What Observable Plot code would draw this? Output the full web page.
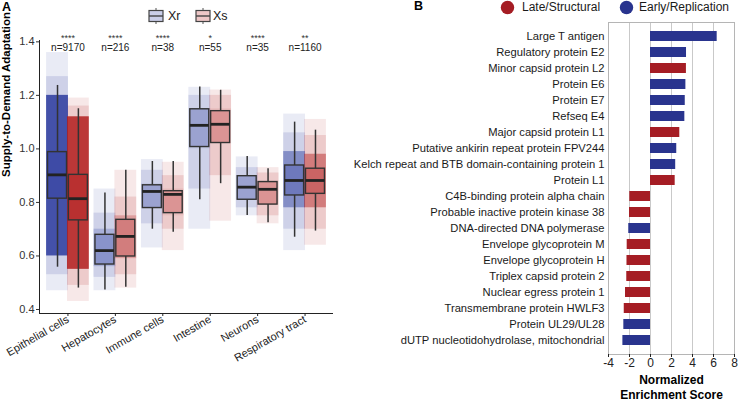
<!DOCTYPE html>
<html><head><meta charset="utf-8">
<script src="https://cdn.jsdelivr.net/npm/d3@7"></script>
<script src="https://cdn.jsdelivr.net/npm/@observablehq/plot@0.6"></script>
<style>
body{margin:0;background:#fff;font-family:"Liberation Sans",Arial,sans-serif;}
#wrap{position:relative;width:738px;height:402px;overflow:hidden;}
#pa{position:absolute;left:0;top:0;}
#pb{position:absolute;left:370px;top:0;}
#pb svg, #pa svg{overflow:visible;}
.lab{position:absolute;font-weight:bold;font-size:12.5px;color:#000;}
.lt{position:absolute;font-size:12px;color:#1a1a1a;line-height:14px;white-space:nowrap;}
.ico{position:absolute;}
</style></head>
<body><div id="wrap">
<div id="pa"></div><div id="pb"></div>
<div class="lab" style="left:2px;top:0px;">A</div>
<div class="lab" style="left:414px;top:-1px;">B</div>
<svg class="ico" style="left:148px;top:8px" width="16" height="16"><line x1="8" x2="8" y1="0" y2="16" stroke="#555" stroke-width="1"/><rect x="1" y="2.5" width="14" height="11" fill="#cacee8" stroke="#444" stroke-width="1.2"/><line x1="1" x2="15" y1="8" y2="8" stroke="#444" stroke-width="1.4"/></svg>
<div class="lt" style="left:168px;top:9px;font-size:12.5px">Xr</div>
<svg class="ico" style="left:195px;top:8px" width="16" height="16"><line x1="8" x2="8" y1="0" y2="16" stroke="#555" stroke-width="1"/><rect x="1" y="2.5" width="14" height="11" fill="#eec7c7" stroke="#444" stroke-width="1.2"/><line x1="1" x2="15" y1="8" y2="8" stroke="#444" stroke-width="1.4"/></svg>
<div class="lt" style="left:213px;top:9px;font-size:12.5px">Xs</div>
<svg class="ico" style="left:500px;top:0px" width="15" height="15"><circle cx="7.5" cy="7.5" r="6.7" fill="#a51d24"/></svg>
<div class="lt" style="left:522px;top:0px">Late/Structural</div>
<svg class="ico" style="left:619px;top:0px" width="15" height="15"><circle cx="7.5" cy="7.5" r="6.7" fill="#29348e"/></svg>
<div class="lt" style="left:639px;top:0px">Early/Replication</div>
</div>
<script>
// ---------- Panel A data ----------
const cellTypes = ["Epithelial cells","Hepatocytes","Immune cells","Intestine","Neurons","Respiratory tract"];
const nLabels = ["n=9170","n=216","n=38","n=55","n=35","n=1160"];
const sigLabels = ["****","****","****","*","****","**"];
const seriesNames = ["Xr","Xs"];
const yTicks = [0.4,0.6,0.8,1.0,1.2,1.4];

const xrWhiskerLo = [0.558,0.473,0.700,0.810,0.751,0.670];
const xrQ1        = [0.814,0.568,0.779,1.007,0.810,0.826];
const xrMedian    = [0.903,0.620,0.841,1.088,0.857,0.882];
const xrQ3        = [0.988,0.679,0.864,1.148,0.898,0.938];
const xrWhiskerHi = [1.237,0.835,0.953,1.231,0.972,1.100];

const xsWhiskerLo = [0.480,0.483,0.689,0.870,0.724,0.693];
const xsQ1        = [0.733,0.598,0.760,1.022,0.792,0.832];
const xsMedian    = [0.814,0.673,0.830,1.092,0.849,0.882];
const xsQ3        = [0.903,0.735,0.842,1.141,0.876,0.926];
const xsWhiskerHi = [1.150,0.920,0.953,1.219,0.926,1.070];

// jittered point clouds, estimated extents (outer / middle / dense core)
const xrPtsLo  = [0.47,0.47,0.63,0.70,0.75,0.62];
const xrPtsHi  = [1.36,0.85,0.96,1.23,0.97,1.13];
const xrMidLo  = [0.53,0.52,0.72,0.85,0.78,0.70];
const xrMidHi  = [1.27,0.76,0.92,1.20,0.93,1.06];
const xrCoreLo = [0.60,0.56,0.78,1.00,0.81,0.78];
const xrCoreHi = [1.20,0.70,0.87,1.15,0.90,0.99];
const xrCoreAlpha = [0.85,0.22,0.08,0.08,0.08,0.45];

const xsPtsLo  = [0.43,0.48,0.62,0.73,0.72,0.64];
const xsPtsHi  = [1.19,0.92,0.95,1.22,0.93,1.11];
const xsMidLo  = [0.49,0.53,0.70,0.90,0.75,0.70];
const xsMidHi  = [1.16,0.82,0.90,1.20,0.91,1.05];
const xsCoreLo = [0.55,0.59,0.75,1.02,0.79,0.78];
const xsCoreHi = [1.12,0.75,0.85,1.15,0.88,0.98];
const xsCoreAlpha = [0.85,0.26,0.08,0.08,0.08,0.45];

// ---------- Panel B data ----------
const proteins = ["Large T antigen","Regulatory protein E2","Minor capsid protein L2","Protein E6","Protein E7","Refseq E4","Major capsid protein L1","Putative ankirin repeat protein FPV244","Kelch repeat and BTB domain-containing protein 1","Protein L1","C4B-binding protein alpha chain","Probable inactive protein kinase 38","DNA-directed DNA polymerase","Envelope glycoprotein M","Envelope glycoprotein H","Triplex capsid protein 2","Nuclear egress protein 1","Transmembrane protein HWLF3","Protein UL29/UL28","dUTP nucleotidohydrolase, mitochondrial"];
const nesValues = [6.35,3.43,3.42,3.37,3.31,3.27,2.79,2.50,2.40,2.35,-1.97,-2.00,-2.07,-2.22,-2.24,-2.26,-2.38,-2.50,-2.54,-2.63];
const proteinClass = ["Early/Replication","Early/Replication","Late/Structural","Early/Replication","Early/Replication","Early/Replication","Late/Structural","Early/Replication","Early/Replication","Late/Structural","Late/Structural","Late/Structural","Early/Replication","Late/Structural","Late/Structural","Late/Structural","Late/Structural","Late/Structural","Early/Replication","Early/Replication"];
const classNames = ["Late/Structural","Early/Replication"];
const nesTicks = [-4,-2,0,2,4,6,8];

// ---------- build tables ----------
const rowsA = cellTypes.flatMap((cat, i) => [
  {i, cat, series:"Xr", side:-1, lo:xrWhiskerLo[i], q1:xrQ1[i], med:xrMedian[i], q3:xrQ3[i], hi:xrWhiskerHi[i],
   pLo:xrPtsLo[i], pHi:xrPtsHi[i], mLo:xrMidLo[i], mHi:xrMidHi[i], cLo:xrCoreLo[i], cHi:xrCoreHi[i], cA:xrCoreAlpha[i]},
  {i, cat, series:"Xs", side:1, lo:xsWhiskerLo[i], q1:xsQ1[i], med:xsMedian[i], q3:xsQ3[i], hi:xsWhiskerHi[i],
   pLo:xsPtsLo[i], pHi:xsPtsHi[i], mLo:xsMidLo[i], mHi:xsMidHi[i], cLo:xsCoreLo[i], cHi:xsCoreHi[i], cA:xsCoreAlpha[i]}
]);
const labelsA = cellTypes.map((cat, i) => ({i, n:nLabels[i], sig:sigLabels[i]}));
const rowsB = proteins.map((p, i) => ({protein:p, nes:nesValues[i], cls:proteinClass[i]}));

const dodge = 0.22, boxHalf = 0.2, jitHalf = 0.23;
const cx = d => d.i + d.side*dodge;
const bx1 = d => cx(d) - boxHalf, bx2 = d => cx(d) + boxHalf;
const jx1 = d => cx(d) - jitHalf, jx2 = d => cx(d) + jitHalf;
const font = "'Liberation Sans', Arial, sans-serif";
const xDomA = [-0.6, 5.6], yDomA = [0.385, 1.405];

const plotA = Plot.plot({
  width:370, height:402, marginLeft:39, marginRight:37, marginTop:40, marginBottom:89,
  style:{fontFamily:font, fontSize:"11px", color:"#222", background:"transparent"},
  x:{domain:xDomA}, y:{domain:yDomA},
  color:{domain:seriesNames, range:["#2b3b9e","#b21d1d"]},
  opacity:{type:"identity"},
  marks:[
    Plot.rect(rowsA, {x1:jx1, x2:jx2, y1:"pLo", y2:"pHi", fill:"series", fillOpacity:0.1}),
    Plot.rect(rowsA, {x1:jx1, x2:jx2, y1:"mLo", y2:"mHi", fill:"series", fillOpacity:0.14}),
    Plot.rect(rowsA, {x1:jx1, x2:jx2, y1:"cLo", y2:"cHi", fill:"series", fillOpacity:"cA"}),
    Plot.ruleX(rowsA, {x:cx, y1:"lo", y2:"q1", stroke:"#333", strokeWidth:1.5}),
    Plot.ruleX(rowsA, {x:cx, y1:"q3", y2:"hi", stroke:"#333", strokeWidth:1.5}),
    Plot.rect(rowsA, {x1:bx1, x2:bx2, y1:"q1", y2:"q3", fill:"series", fillOpacity:0.25, stroke:"#333", strokeWidth:1.4}),
    Plot.ruleY(rowsA, {y:"med", x1:bx1, x2:bx2, stroke:"#222", strokeWidth:2.8}),
    Plot.ruleX([xDomA[0]], {stroke:"#222", strokeWidth:1}),
    Plot.ruleY([yDomA[0]], {stroke:"#222", strokeWidth:1}),
    Plot.axisY({ticks:yTicks, tickFormat:d3.format(".1f"), tickSize:3, tickPadding:2, label:null, fontSize:11, color:"#333"}),
    Plot.axisX({ticks:cellTypes.map((c, i) => i), tickFormat:i => cellTypes[i], tickRotate:-30, tickSize:3, tickPadding:2, label:null, fontSize:11, color:"#222"}),
    Plot.text(labelsA, {x:"i", text:"sig", frameAnchor:"top", dy:-6, fontSize:9, fill:"#333"}),
    Plot.text(labelsA, {x:"i", text:"n", frameAnchor:"top", dy:3, fontSize:10, fill:"#222"}),
    Plot.text(["Supply-to-Demand Adaptation"], {text:d => d, frameAnchor:"left", dx:-33, rotate:-90, fontWeight:"bold", fontSize:11.5, fill:"#000"})
  ]
});
document.getElementById("pa").appendChild(plotA);

const plotB = Plot.plot({
  width:368, height:402, marginLeft:238, marginRight:4, marginTop:22, marginBottom:48,
  style:{fontFamily:font, fontSize:"11px", color:"#222", background:"transparent"},
  x:{domain:[nesTicks[0], nesTicks[nesTicks.length-1]]},
  y:{domain:proteins, paddingInner:0.38, paddingOuter:0.15},
  color:{domain:classNames, range:["#a51d24","#29348e"]},
  marks:[
    Plot.gridX({ticks:nesTicks, stroke:"#c9c9c9", strokeOpacity:1}),
    Plot.barX(rowsB, {x:"nes", y:"protein", fill:"cls"}),
    Plot.frame({stroke:"#b5b5b5"}),
    Plot.axisX({ticks:nesTicks, tickFormat:d => String(d), tickSize:3, tickPadding:1, label:null, fontSize:12, color:"#222"}),
    Plot.axisY({tickSize:0, tickPadding:4, label:null, fontSize:11.2, color:"#1a1a1a"}),
    Plot.text(["Normalized\nEnrichment Score"], {text:d => d, frameAnchor:"bottom", dy:44, fontWeight:"bold", fontSize:12, lineHeight:1.22, fill:"#000"})
  ]
});
document.getElementById("pb").appendChild(plotB);
</script>
</body></html>
